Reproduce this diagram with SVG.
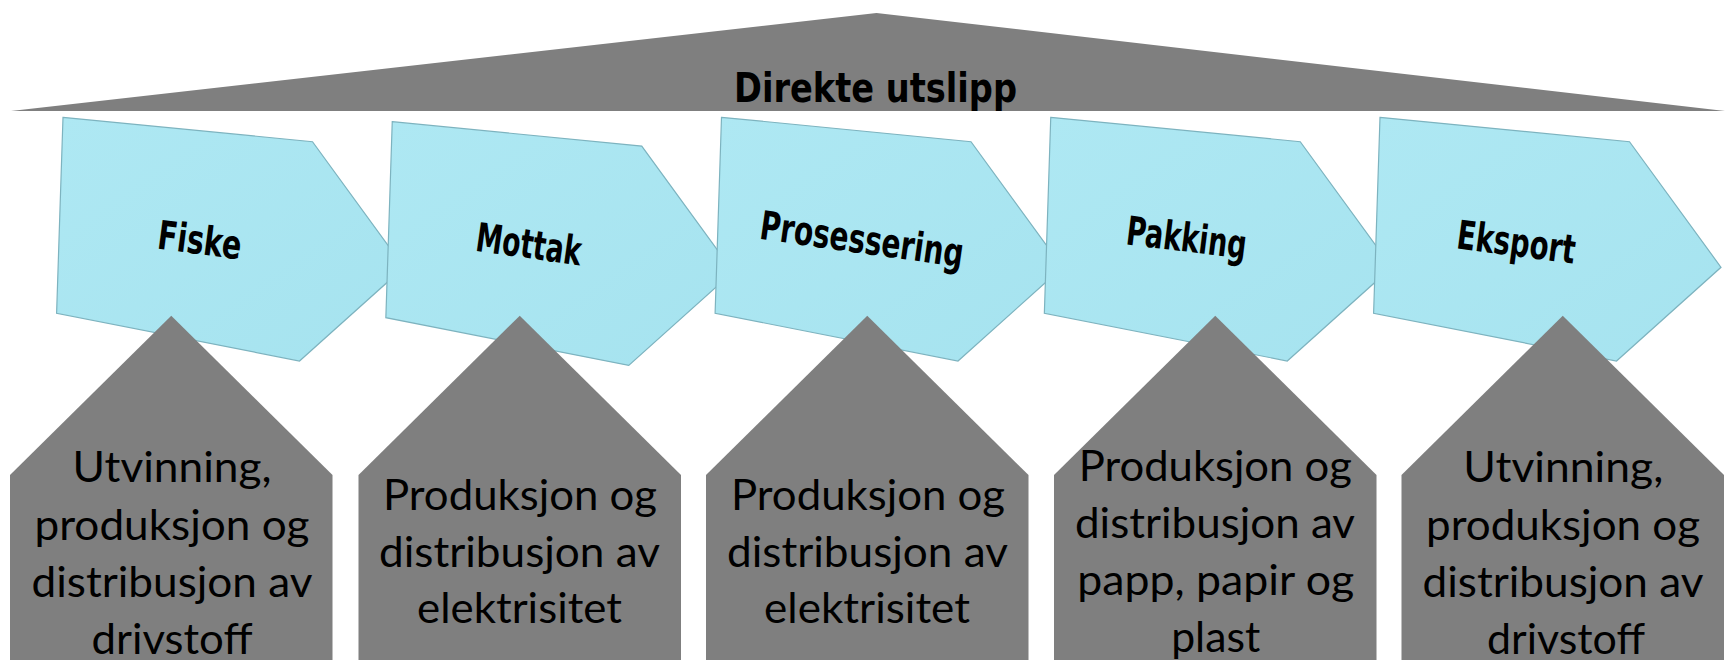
<svg xmlns="http://www.w3.org/2000/svg" width="1725" height="660" viewBox="0 0 1725 660">
<defs>
<linearGradient id="cg" x1="0" y1="0" x2="1" y2="1">
<stop offset="0" stop-color="#AEE8F3"/>
<stop offset="1" stop-color="#A6E3EF"/>
</linearGradient>
<polygon id="chev" points="63,117.3 312.5,141.7 404,267.3 299.5,361 56.6,313.3"/>
</defs>
<style>
.chev{fill:url(#cg);stroke:#7DB3BF;stroke-width:1.2}
.gray{fill:#7F7F7F}
.hd{font-family:"DejaVu Sans","Liberation Sans",sans-serif;font-weight:bold;font-size:40px;fill:#000;text-anchor:middle}
.bt{font-family:Lato,"Liberation Sans",sans-serif;font-size:43px;fill:#000;text-anchor:middle}
</style>
<rect width="1725" height="660" fill="#fff"/>
<g id="direkte-utslipp">
<polygon class="gray" points="11,111 876.5,13 1725,111"/>
<text class="hd" x="875.5" y="101.5" font-size="41" textLength="283" lengthAdjust="spacingAndGlyphs">Direkte utslipp</text>
</g>
<g id="fiske">
<use href="#chev" class="chev"/>
<text class="hd" transform="translate(198,254) rotate(7.5)" textLength="84" lengthAdjust="spacingAndGlyphs">Fiske</text>
</g>
<g id="mottak">
<use href="#chev" class="chev" transform="translate(329.25,4.4)"/>
<text class="hd" transform="translate(527,258) rotate(8)" textLength="106" lengthAdjust="spacingAndGlyphs">Mottak</text>
</g>
<g id="prosessering">
<use href="#chev" class="chev" transform="translate(658.5,0)"/>
<text class="hd" transform="translate(860,253) rotate(8)" textLength="205" lengthAdjust="spacingAndGlyphs">Prosessering</text>
</g>
<g id="pakking">
<use href="#chev" class="chev" transform="translate(987.75,0)"/>
<text class="hd" transform="translate(1185,251.5) rotate(7)" textLength="121" lengthAdjust="spacingAndGlyphs">Pakking</text>
</g>
<g id="eksport">
<use href="#chev" class="chev" transform="translate(1317,0)"/>
<text class="hd" transform="translate(1514.5,256) rotate(7.5)" textLength="119" lengthAdjust="spacingAndGlyphs">Eksport</text>
</g>
<g id="kilde-fiske">
<polygon class="gray" points="10,665 10,475 171.25,315.7 332.5,475 332.5,665"/>
<text class="bt" x="172" y="481.5" textLength="199" lengthAdjust="spacingAndGlyphs">Utvinning,</text>
<text class="bt" x="172" y="539.5" textLength="275" lengthAdjust="spacingAndGlyphs">produksjon og</text>
<text class="bt" x="172" y="596.5" textLength="281" lengthAdjust="spacingAndGlyphs">distribusjon av</text>
<text class="bt" x="172" y="653.5" textLength="161" lengthAdjust="spacingAndGlyphs">drivstoff</text>
</g>
<g id="kilde-mottak">
<polygon class="gray" points="358.5,665 358.5,475 519.75,315.7 681,475 681,665"/>
<text class="bt" x="520" y="510" textLength="274" lengthAdjust="spacingAndGlyphs">Produksjon og</text>
<text class="bt" x="519.5" y="566.7" textLength="281" lengthAdjust="spacingAndGlyphs">distribusjon av</text>
<text class="bt" x="519.5" y="623.3" textLength="205" lengthAdjust="spacingAndGlyphs">elektrisitet</text>
</g>
<g id="kilde-prosessering">
<polygon class="gray" points="706,665 706,475 867.25,315.7 1028.5,475 1028.5,665"/>
<text class="bt" x="868" y="510" textLength="274" lengthAdjust="spacingAndGlyphs">Produksjon og</text>
<text class="bt" x="867.5" y="566.7" textLength="281" lengthAdjust="spacingAndGlyphs">distribusjon av</text>
<text class="bt" x="867" y="623.3" textLength="206" lengthAdjust="spacingAndGlyphs">elektrisitet</text>
</g>
<g id="kilde-pakking">
<polygon class="gray" points="1054,665 1054,475 1215.25,315.7 1376.5,475 1376.5,665"/>
<text class="bt" x="1215.3" y="481.3" textLength="273" lengthAdjust="spacingAndGlyphs">Produksjon og</text>
<text class="bt" x="1215" y="538.3" textLength="280" lengthAdjust="spacingAndGlyphs">distribusjon av</text>
<text class="bt" x="1215.7" y="595" textLength="277" lengthAdjust="spacingAndGlyphs">papp, papir og</text>
<text class="bt" x="1215.7" y="651.7" textLength="89" lengthAdjust="spacingAndGlyphs">plast</text>
</g>
<g id="kilde-eksport">
<polygon class="gray" points="1401.5,665 1401.5,475 1562.75,315.7 1724,475 1724,665"/>
<text class="bt" x="1563.3" y="481.5" textLength="200" lengthAdjust="spacingAndGlyphs">Utvinning,</text>
<text class="bt" x="1563" y="539.5" textLength="274" lengthAdjust="spacingAndGlyphs">produksjon og</text>
<text class="bt" x="1563" y="596.5" textLength="281" lengthAdjust="spacingAndGlyphs">distribusjon av</text>
<text class="bt" x="1566" y="653.5" textLength="158" lengthAdjust="spacingAndGlyphs">drivstoff</text>
</g>
<g id="connectors"/>
</svg>
